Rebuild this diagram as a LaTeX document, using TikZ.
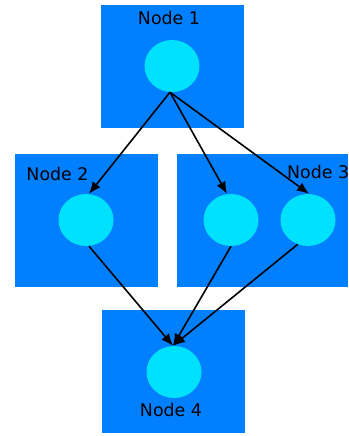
\documentclass[tikz,border=0pt]{standalone}
\usepackage{fontspec}
\setmainfont{DejaVu Sans}
\usetikzlibrary{
  positioning,
  shapes.geometric,
  arrows.meta
}
\definecolor{boxblue}{RGB}{0,128,255}
\definecolor{dotcyan}{RGB}{0,224,255}

\begin{document}
\begin{tikzpicture}[x=1pt,y=-1pt,>={Latex[length=12pt,width=10pt]},
    box/.style={rectangle,fill=boxblue,inner sep=0pt},
    dot/.style={ellipse,fill=dotcyan,inner sep=0pt,minimum width=55pt,minimum height=52pt},
    lbl/.style={inner sep=0pt,font=\fontsize{17.4}{20}\selectfont},
    link/.style={->,line width=1.6pt}]
            \useasboundingbox (0,0) rectangle (348,436);
            % boxes
            \node[box,minimum width=143pt,minimum height=123pt] (box1) at (172.5,66.5) {};
            \node[box,minimum width=143pt,minimum height=133pt] (box2) at (86.5,220.5) {};
            \node[box,minimum width=171pt,minimum height=133pt] (box3) at (262.5,220.5) {};
            \node[box,minimum width=143pt,minimum height=123pt] (box4) at (173.5,371.5) {};
            % labels
            \node[lbl,anchor=base] (lbl1) at (169,25) {Node 1};
            \node[lbl,anchor=base] (lbl2) at (57.5,180) {Node 2};
            \node[lbl,anchor=base west] (lbl3) at (287,178) {Node 3};
            \node[lbl,anchor=base] (lbl4) at (171,416) {Node 4};
            % dots
            \node[dot] (d1) at (172,66) {};
            \node[dot] (d2) at (86,220) {};
            \node[dot] (d3a) at (231,220) {};
            \node[dot] (d3b) at (308,220) {};
            \node[dot] (d4) at (174,372) {};
            % links
            \draw[link] ([xshift=-2pt]d1.south) -- ([xshift=3pt]d2.north);
            \draw[link] ([xshift=-2pt]d1.south) -- ([xshift=-4pt]d3a.north);
            \draw[link] ([xshift=-2pt]d1.south) -- ([xshift=1pt]d3b.north);
            \draw[link] ([xshift=3pt]d2.south) -- ([xshift=-1pt]d4.north);
            \draw[link] (d3a.south) -- ([xshift=-1pt]d4.north);
            \draw[link] (d3b.247) -- ([xshift=-1pt]d4.north);
        \end{tikzpicture}
\end{document}
